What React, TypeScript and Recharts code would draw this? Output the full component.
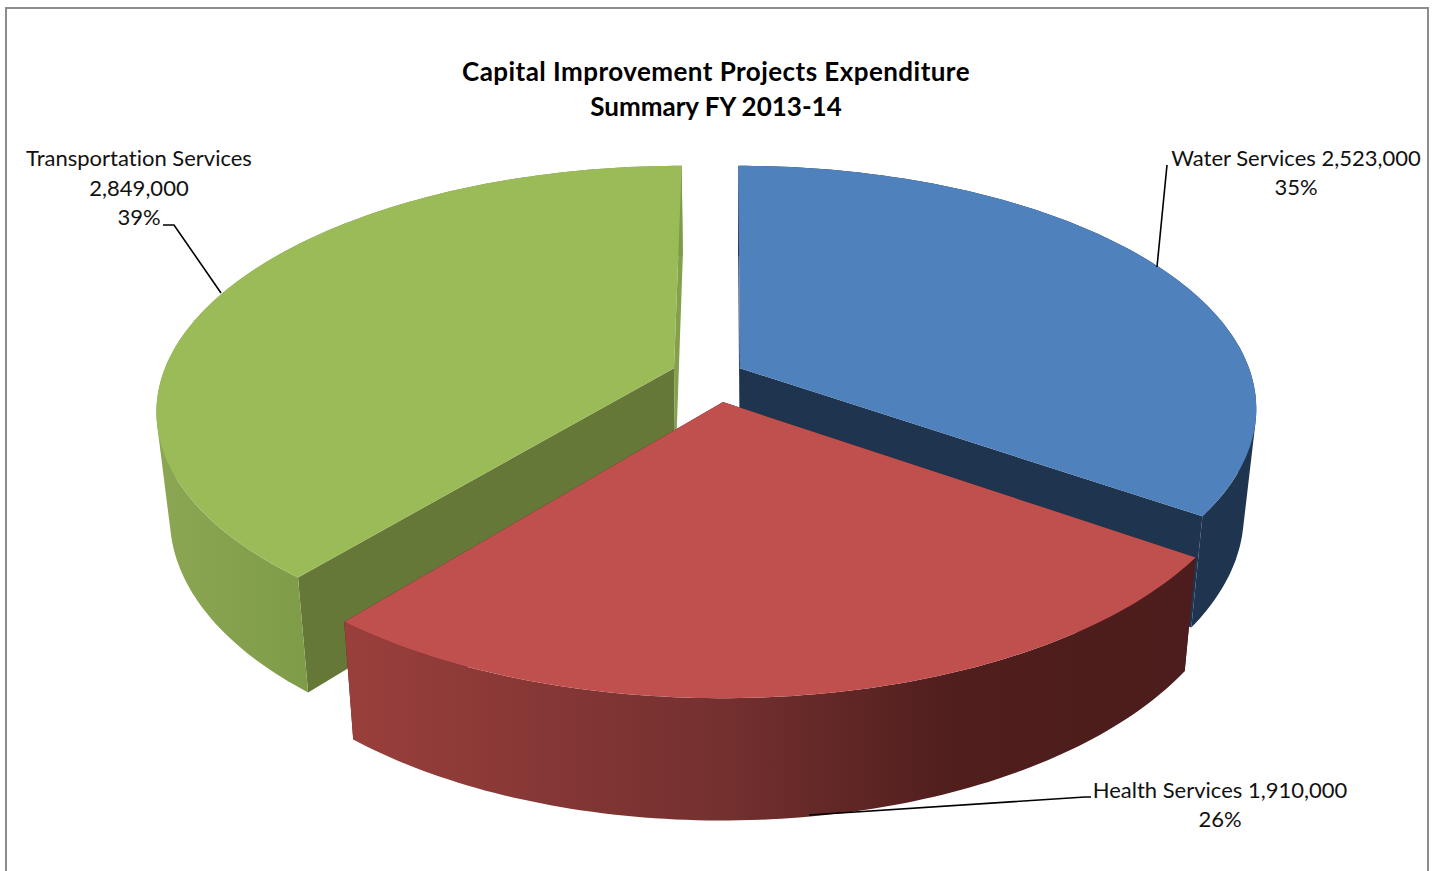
import React from 'react';
import { PieChart, Pie, Cell } from 'recharts';

// Painted back to front, so Health comes last
const categories = ['Transportation Services', 'Water Services', 'Health Services'];
const expenditure = [2849000, 2523000, 1910000];
const titleLines = ['Capital Improvement Projects Expenditure', 'Summary FY 2013-14'];

const data = categories.map((name, i) => ({ name, value: expenditure[i] }));

// Water has to begin straight up, Transportation sits before it
const total = expenditure.reduce((a, b) => a + b, 0);
const START_ANGLE = 90 + (360 * expenditure[0]) / total - 360;

const FONT = 'Lato, Carlito, sans-serif';

// look of each slice: offset from the centre (x, depth) plus colours
const sliceStyle: Record<string, any> = {
    'Water Services': {
        offset: [0.0215, -0.07], top: '#4F81BD', startFace: '#1F344F', endFace: '#1F344F',
        wall: [[0, '#1F344F'], [1, '#1F344F']],
    },
    'Health Services': {
        offset: [-0.0115, 0.07], top: '#C0504D', startFace: '#4C1D1C', endFace: '#4C1D1C',
        wall: [[0, '#9A3F3C'], [0.45, '#73302F'], [0.72, '#4F1E1D'], [1, '#4C1D1C']],
    },
    'Transportation Services': {
        offset: [-0.108, -0.07], top: '#9BBB59', startFace: '#657838', endFace: '#83A04A',
        wall: [[0, '#8CA754'], [0.3, '#7E9B47'], [1, '#7E9B47']],
    },
};

// text block and leader line of each slice
const labelStyle: Record<string, any> = {
    'Water Services': { x: 1296, y: [166, 195], oneLine: true, leader: '1157,267 1167,165' },
    'Health Services': { x: 1220, y: [798, 827], oneLine: true, leader: '809,815 1085,797 1091,797' },
    'Transportation Services': { x: 139, y: [166, 196, 225], oneLine: false, leader: '221,293 174,225 163,225' },
};

const PERSPECTIVE = 0.165;
const SQUASH = 0.468;
const BOTTOM_SCALE_X = 0.9766;
const BOTTOM_SCALE_Y = 1.06;
const DEPTH = 103.5;

const toPath = (pts: number[][]) => 'M' + pts.map((p) => p[0].toFixed(1) + ',' + p[1].toFixed(1)).join('L') + 'Z';

// signed area, so every wall piece can be wound the same way
const area = (q: number[][]) =>
    q.reduce((sum, p, i) => {
        const n = q[(i + 1) % q.length];
        return sum + p[0] * n[1] - n[0] * p[1];
    }, 0);

const Slice3D = (props: any) => {
    const { cx, cy, outerRadius, startAngle, endAngle, name, index } = props;
    const st = sliceStyle[name];
    const project = (u: number, v: number) => {
        const s = 1 / (1 - PERSPECTIVE * v);
        return [cx + outerRadius * u * s, cy + outerRadius * SQUASH * v * s];
    };
    const drop = (p: number[]) => [
        cx + (p[0] - cx) * BOTTOM_SCALE_X,
        cy + (p[1] - cy) * BOTTOM_SCALE_Y + DEPTH,
    ];
    const apex = project(st.offset[0], st.offset[1]);
    const arc: number[][] = [];
    const steps = Math.ceil(Math.abs(endAngle - startAngle));
    for (let i = 0; i <= steps; i++) {
        const a = ((startAngle + ((endAngle - startAngle) * i) / steps) * Math.PI) / 180;
        arc.push(project(st.offset[0] + Math.cos(a), st.offset[1] - Math.sin(a)));
    }
    const first = arc[0];
    const last = arc[arc.length - 1];
    let wall = '';
    for (let i = 0; i < arc.length - 1; i++) {
        const q = [arc[i], arc[i + 1], drop(arc[i + 1]), drop(arc[i])];
        wall += toPath(area(q) < 0 ? q.reverse() : q);
    }
    const gradId = 'wall-' + index;
    return (
        <g>
            <defs>
                <linearGradient id={gradId} x1="0" y1="0" x2="1" y2="0">
                    {st.wall.map((w: any[], i: number) => (
                        <stop key={i} offset={w[0]} stopColor={w[1]} />
                    ))}
                </linearGradient>
            </defs>
            <path d={toPath([apex, first, drop(first), drop(apex)])} fill={st.startFace} />
            <path d={toPath([apex, last, drop(last), drop(apex)])} fill={st.endFace} />
            <path d={wall} fill={`url(#${gradId})`} />
            <path d={toPath([apex, ...arc])} fill={st.top} />
        </g>
    );
};

const SliceLabel = (props: any) => {
    const { name, value, percent } = props;
    const st = labelStyle[name];
    const amount = value.toLocaleString('en-US');
    const pct = Math.round(percent * 100) + '%';
    const lines = st.oneLine ? [name + ' ' + amount, pct] : [name, amount, pct];
    return (
        <g>
            <polyline points={st.leader} fill="none" stroke="#000" strokeWidth={1.6} />
            {lines.map((line: string, i: number) => (
                <text
                    key={i}
                    x={st.x}
                    y={st.y[i]}
                    textAnchor="middle"
                    fontFamily={FONT}
                    fontSize={22}
                    fill="#111"
                    style={{ fontVariantLigatures: 'none' }}
                >
                    {line}
                </text>
            ))}
        </g>
    );
};

const App = () => {
    return (
        <div style={{ position: 'absolute', left: 0, top: 0, width: 1437, height: 871, overflow: 'hidden', background: '#fff' }}>
            <div
                style={{
                    position: 'absolute', left: 5, top: 7, width: 1420, height: 900,
                    border: '2px solid #8c8c8c',
                }}
            />
            <div style={{ position: 'absolute', left: 0, top: 0 }}>
                <PieChart width={1437} height={871} margin={{ top: 0, right: 0, bottom: 0, left: 0 }}>
                    <Pie
                        data={data}
                        dataKey="value"
                        nameKey="name"
                        cx={729}
                        cy={385}
                        innerRadius={0}
                        outerRadius={515}
                        startAngle={START_ANGLE}
                        endAngle={START_ANGLE - 360}
                        stroke="none"
                        shape={Slice3D}
                        label={SliceLabel}
                        labelLine={false}
                        isAnimationActive={false}
                    >
                        {data.map((d) => (
                            <Cell key={d.name} fill={sliceStyle[d.name].top} />
                        ))}
                    </Pie>
                    <text
                        x={716}
                        y={81}
                        textAnchor="middle"
                        fontFamily={FONT}
                        fontWeight={700}
                        fontSize={26}
                        fill="#000"
                        style={{ letterSpacing: 0.45, fontVariantLigatures: 'none' }}
                    >
                        {titleLines[0]}
                    </text>
                    <text x={716} y={116} textAnchor="middle" fontFamily={FONT} fontWeight={700} fontSize={26} fill="#000">
                        {titleLines[1]}
                    </text>
                </PieChart>
            </div>
        </div>
    );
};

export default App;
